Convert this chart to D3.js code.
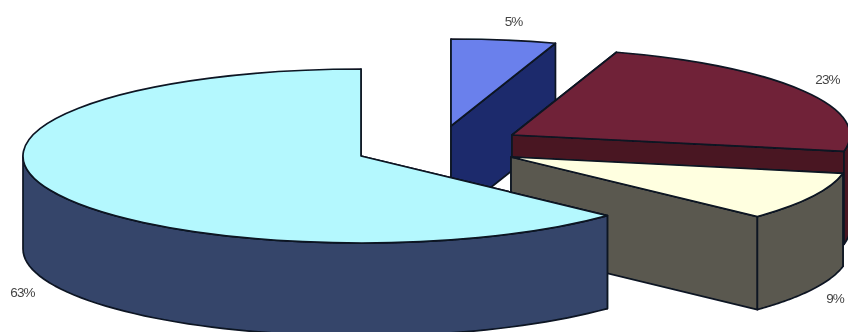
<!DOCTYPE html>
<html>
<head>
<meta charset="utf-8">
<script src="https://cdn.jsdelivr.net/npm/d3@7"></script>
<style>
html,body{margin:0;padding:0;background:#fff;overflow:hidden}
svg{display:block}
text{font-family:"Liberation Sans",Arial,sans-serif;font-size:13.5px;fill:#444;letter-spacing:-0.9px}
</style>
</head>
<body>
<svg id="chart" width="848" height="332"></svg>
<script>
// Data
const values = [5, 23, 9, 63];
const labels = ["5%", "23%", "9%", "63%"];
const topColors = ["#6a80ec", "#702339", "#ffffe0", "#b4f8fe"];
const sideColors = ["#1e2c6c", "#4a1522", "#5a5950", "#34456a"];

// Layout
const rx = 338, ry = 87, depth = 93;
const sliceCentres = [[451, 126], [512, 135], [511, 157], [361, 156]];
const labelAnchors = [[513.5, 26], [827.5, 84], [835, 303], [22.5, 297]];
const strokeColor = "#0b1322";

const svg = d3.select("#chart");
const defs = svg.append("defs");
defs.append("filter").attr("id", "soft").append("feGaussianBlur").attr("stdDeviation", 0.5);
const root = svg.append("g").attr("filter", "url(#soft)");

const pie = d3.pie().sort(null).startAngle(0).endAngle(2 * Math.PI)(values);
const arc = d3.arc().innerRadius(0).outerRadius(rx);
const line = d3.line();
const pt = (a, dy = 0) => [rx * Math.sin(a), -ry * Math.cos(a) + dy];

function wallPath(a0, a1) {
  const steps = d3.range(0, 61).map(i => a0 + (a1 - a0) * i / 60);
  const top = steps.map(a => pt(a));
  const bottom = steps.slice().reverse().map(a => pt(a, depth));
  return line(top.concat(bottom)) + "Z";
}
function cutPath(a) {
  return line([[0, 0], pt(a), pt(a, depth), [0, depth]]) + "Z";
}

pie.forEach((d, i) => {
  const [cx, cy] = sliceCentres[i];
  const g = root.append("g").attr("transform", `translate(${cx},${cy})`);
  const style = sel => sel.attr("stroke", strokeColor).attr("stroke-width", 1.7).attr("stroke-linejoin", "round");
  // cut faces
  g.append("path").attr("d", cutPath(d.startAngle)).attr("fill", sideColors[i]).call(style);
  g.append("path").attr("d", cutPath(d.endAngle)).attr("fill", sideColors[i]).call(style);
  // outer wall: only the part facing the viewer
  const w0 = Math.max(d.startAngle, Math.PI / 2), w1 = Math.min(d.endAngle, 3 * Math.PI / 2);
  if (w1 > w0) g.append("path").attr("d", wallPath(w0, w1)).attr("fill", sideColors[i]).call(style);
  // top face
  g.append("path")
    .attr("transform", `scale(1,${ry / rx})`)
    .attr("d", arc(d))
    .attr("fill", topColors[i])
    .attr("vector-effect", "non-scaling-stroke")
    .call(style);
});

root.selectAll("text.lbl").data(labels).join("text")
  .attr("class", "lbl")
  .attr("text-anchor", "middle")
  .attr("x", (d, i) => labelAnchors[i][0])
  .attr("y", (d, i) => labelAnchors[i][1])
  .text(d => d);
</script>
</body>
</html>
